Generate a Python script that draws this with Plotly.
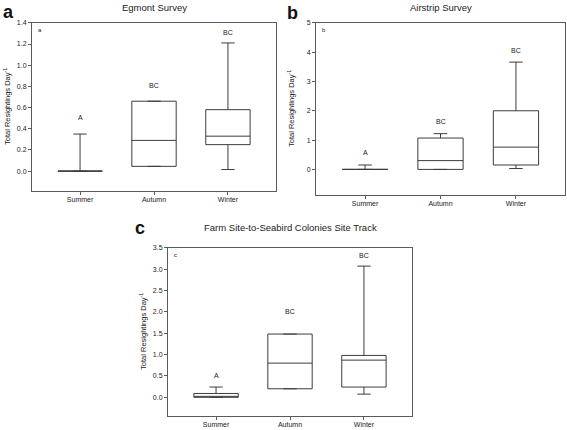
import plotly.graph_objects as go

categories = ["Summer", "Autumn", "Winter"]

# Panel a: Egmont Survey
a_q1 = [0.0, 0.045, 0.25]
a_med = [0.0, 0.29, 0.33]
a_q3 = [0.0, 0.66, 0.58]
a_lo = [0.0, 0.045, 0.015]
a_hi = [0.35, 0.66, 1.21]
a_letters = ["A", "BC", "BC"]
a_letter_y = [0.51, 0.81, 1.31]

# Panel b: Airstrip Survey
b_q1 = [0.0, 0.0, 0.15]
b_med = [0.0, 0.3, 0.76]
b_q3 = [0.0, 1.07, 2.0]
b_lo = [0.0, 0.0, 0.03]
b_hi = [0.15, 1.22, 3.66]
b_letters = ["A", "BC", "BC"]
b_letter_y = [0.56, 1.64, 4.05]

# Panel c: Farm Site-to-Seabird Colonies Site Track
c_q1 = [0.0, 0.2, 0.24]
c_med = [0.0, 0.8, 0.87]
c_q3 = [0.09, 1.48, 0.98]
c_lo = [0.0, 0.2, 0.075]
c_hi = [0.24, 1.48, 3.07]
c_letters = ["A", "BC", "BC"]
c_letter_y = [0.51, 2.0, 3.32]

titles = ["Egmont Survey", "Airstrip Survey", "Farm Site-to-Seabird Colonies Site Track"]
panel_tags = ["a", "b", "c"]
ytitle = "Total Resightings Day<sup>-1</sup>"

W, H = 567, 430
# plot areas in pixels (left, right, top, bottom)
areas = [(32, 276, 19, 189), (316, 565, 19, 193), (168, 412, 246, 416)]
title_y = [4, 4, 226]        # pixel centre of titles
letter_pos = [(1, 8), (285, 9), (133, 226)]  # pixel left x / centre y of big letters
yranges = [[-0.19, 1.4], [-0.88, 5.0], [-0.44, 3.5]]
ytickvals = [[0, 0.2, 0.4, 0.6, 0.8, 1.0, 1.2, 1.4], [0, 1, 2, 3, 4, 5],
             [0, 0.5, 1.0, 1.5, 2.0, 2.5, 3.0, 3.5]]
yfmt = [".1f", "d", ".1f"]

LINE = "#3c3c3c"
AX = "#5a5a5a"
TXT = "#222222"
FONT = "Liberation Sans, Arial, sans-serif"

fig = go.Figure()
data = [
    (a_q1, a_med, a_q3, a_lo, a_hi, a_letters, a_letter_y),
    (b_q1, b_med, b_q3, b_lo, b_hi, b_letters, b_letter_y),
    (c_q1, c_med, c_q3, c_lo, c_hi, c_letters, c_letter_y),
]

annotations = []
for i, (q1, med, q3, lo, hi, letters, ly) in enumerate(data):
    sfx = "" if i == 0 else str(i + 1)
    fig.add_trace(go.Box(
        x=categories, q1=q1, median=med, q3=q3, lowerfence=lo, upperfence=hi,
        xaxis="x" + sfx, yaxis="y" + sfx,
        width=0.6, whiskerwidth=0.3, boxpoints=False,
        fillcolor="white", line=dict(color=LINE, width=1),
        showlegend=False, hoverinfo="skip",
    ))
    l, r, t, b = areas[i]
    xd = [l / W, r / W]
    yd = [1 - b / H, 1 - t / H]
    common = dict(showline=True, mirror=True, linecolor=AX, linewidth=1,
                  ticks="outside", ticklen=3, tickcolor=AX, showgrid=False,
                  zeroline=False, tickfont=dict(size=7, color=TXT, family=FONT))
    fig.update_layout(**{
        "xaxis" + sfx: dict(domain=xd, anchor="y" + sfx, type="category",
                            range=[-0.65, 2.65], categoryorder="array",
                            categoryarray=categories, ticklabelstandoff=-2,
                            **common),
        "yaxis" + sfx: dict(domain=yd, anchor="x" + sfx, range=yranges[i],
                            tickvals=ytickvals[i], tickformat=yfmt[i], **common),
    })
    for cat, lab, yy in zip(categories, letters, ly):
        annotations.append(dict(x=cat, y=yy, xref="x" + sfx, yref="y" + sfx,
                                text=lab, showarrow=False,
                                xanchor="center", yanchor="middle",
                                font=dict(size=7, color=TXT, family=FONT)))
    # small inner tag
    annotations.append(dict(x=0.015, y=0.985, xref="x" + sfx + " domain",
                            yref="y" + sfx + " domain", text=panel_tags[i],
                            showarrow=False, xanchor="left", yanchor="top",
                            font=dict(size=6, color=TXT, family=FONT)))
    # title
    annotations.append(dict(x=(l + r) / 2 / W, y=1 - title_y[i] / H, xref="paper",
                            yref="paper", text=titles[i], showarrow=False,
                            xanchor="center", yanchor="middle",
                            font=dict(size=9.5, color=TXT, family=FONT)))
    # y axis title
    annotations.append(dict(x=(l - 25) / W, y=1 - (t + b) / 2 / H, xref="paper",
                            yref="paper", text=ytitle, showarrow=False,
                            textangle=-90, xanchor="center", yanchor="middle",
                            font=dict(size=7.5, color=TXT, family=FONT)))
    # big panel letter
    lx, lyy = letter_pos[i]
    annotations.append(dict(x=lx / W, y=1 - lyy / H, xref="paper",
                            yref="paper", text="<b>" + panel_tags[i] + "</b>",
                            showarrow=False, xanchor="left", yanchor="middle",
                            font=dict(size=18, color="#111111", family=FONT)))

fig.update_layout(
    width=W, height=H, margin=dict(l=0, r=0, t=0, b=0),
    paper_bgcolor="white", plot_bgcolor="white",
    annotations=annotations, font=dict(family=FONT),
)

fig.write_html("out.html", config={"displayModeBar": False},
               post_script="document.body.style.margin='0';document.body.style.padding='0';")
